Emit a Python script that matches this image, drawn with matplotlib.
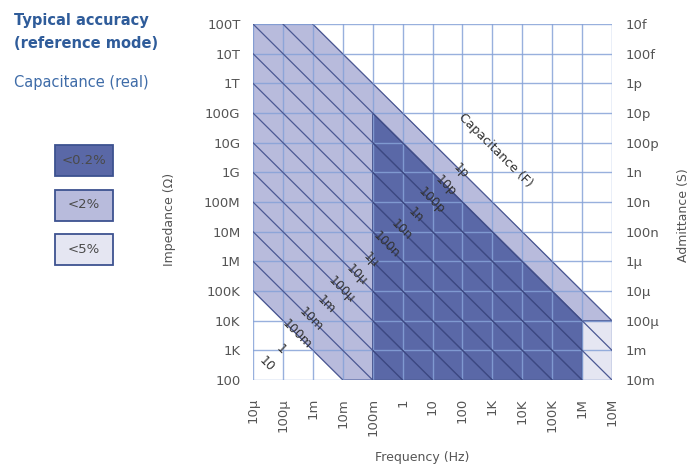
import matplotlib
matplotlib.use('Agg')
import matplotlib.pyplot as plt
from matplotlib.patches import Polygon, Rectangle

# ---- data ----
freq_exp = list(range(-5, 8))
freq_labels = ['10μ', '100μ', '1m', '10m', '100m', '1', '10', '100', '1K', '10K', '100K', '1M', '10M']
imp_exp = list(range(2, 15))
imp_labels = ['100', '1K', '10K', '100K', '1M', '10M', '100M', '1G', '10G', '100G', '1T', '10T', '100T']
adm_labels = ['10m', '1m', '100μ', '10μ', '1μ', '100n', '10n', '1n', '100p', '10p', '1p', '100f', '10f']
cap_exp = [1, 0, -1, -2, -3, -4, -5, -6, -7, -8, -9, -10, -11, -12]
cap_labels = ['10', '1', '100m', '10m', '1m', '100μ', '10μ', '1μ', '100n', '10n', '1n', '100p', '10p', '1p']

# accuracy regions: vertices as (log10 f, log10 |Z|)
region_2 = [(-5, 5), (-5, 14), (-3, 14), (7, 4), (6, 4), (6, 2), (-2, 2)]
region_5 = [(6, 2), (7, 2), (7, 4), (6, 4)]
region_02 = [(-1, 2), (-1, 11), (6, 4), (6, 2)]
legend_labels = ['<0.2%', '<2%', '<5%']

# ---- style ----
c_dark = '#5a68a7'
c_mid = '#b8bbdc'
c_light = '#e5e6f2'
c_grid = '#86a2d8'
c_diag = '#4b5893'
c_title = '#2f5c9a'
c_sub = '#3f6ca8'
c_text = '#555555'

fig = plt.figure(figsize=(6.96, 4.71), dpi=100)
W, H = 696, 471
ax = fig.add_axes([253 / W, 91 / H, 359 / W, 356 / H])
ax.set_xscale('log')
ax.set_yscale('log')
ax.set_xlim(10.0 ** freq_exp[0], 10.0 ** freq_exp[-1])
ax.set_ylim(10.0 ** imp_exp[0], 10.0 ** imp_exp[-1])


def to_real(pts):
    return [(10.0 ** a, 10.0 ** b) for a, b in pts]


patches = []
for pts, col, dcol in [(region_2, c_mid, c_diag), (region_5, c_light, c_diag), (region_02, c_dark, '#3c4882')]:
    p = Polygon(to_real(pts), closed=True, facecolor=col, edgecolor=dcol, lw=0.8, zorder=1)
    ax.add_patch(p)
    patches.append((p, dcol))

# grid
for e in freq_exp:
    ax.axvline(10.0 ** e, color=c_grid, lw=1.0, alpha=0.85, zorder=2)
for e in imp_exp:
    ax.axhline(10.0 ** e, color=c_grid, lw=1.0, alpha=0.85, zorder=2)

# diagonal constant-capacitance lines, clipped to shaded regions
lo, hi = freq_exp[0], freq_exp[-1]
for p, dcol in patches:
    for c in range(imp_exp[0] + lo, imp_exp[-1] + hi + 1):
        ln, = ax.plot([10.0 ** lo, 10.0 ** hi], [10.0 ** (c - lo), 10.0 ** (c - hi)],
                      color=dcol, lw=0.9, zorder=3)
        ln.set_clip_path(p)

# capacitance labels
for e, lab in zip(cap_exp, cap_labels):
    s = -e - 1
    d = 7.1
    ax.text(10.0 ** ((s - d) / 2), 10.0 ** ((s + d) / 2), lab, rotation=-45,
            ha='center', va='center', fontsize=9, color='#333333', zorder=5)
ax.text(10.0 ** 3.09, 10.0 ** 9.74, 'Capacitance (F)', rotation=-45,
        ha='center', va='center', fontsize=9, color='#333333', zorder=5)

for s in ax.spines.values():
    s.set_visible(False)

ax.minorticks_off()
ax.set_xticks([10.0 ** e for e in freq_exp])
ax.set_xticklabels(freq_labels, rotation=90, fontsize=9.5, color=c_text)
ax.set_yticks([10.0 ** e for e in imp_exp])
ax.set_yticklabels(imp_labels, fontsize=9.5, color=c_text)
ax.tick_params(axis='both', length=0)
ax.tick_params(axis='x', pad=13)
ax.tick_params(axis='y', pad=9)

ax2 = ax.twinx()
ax2.set_yscale('log')
ax2.set_ylim(ax.get_ylim())
ax2.minorticks_off()
ax2.set_yticks([10.0 ** e for e in imp_exp])
ax2.set_yticklabels(adm_labels, fontsize=9.5, color=c_text)
ax2.tick_params(axis='y', length=0, pad=10)
for s in ax2.spines.values():
    s.set_visible(False)

fig.text(170 / W, 1 - 219 / H, 'Impedance (Ω)', rotation=90, ha='center', va='center',
         fontsize=9, color=c_text)
fig.text(683 / W, 1 - 215 / H, 'Admittance (S)', rotation=90, ha='center', va='center',
         fontsize=9, color=c_text)
fig.text(422 / W, 1 - 457 / H, 'Frequency (Hz)', ha='center', va='center',
         fontsize=9, color=c_text)

fig.text(14 / W, 1 - 20 / H, 'Typical accuracy', ha='left', va='center',
         fontsize=10.5, fontweight='bold', color=c_title)
fig.text(14 / W, 1 - 44 / H, '(reference mode)', ha='left', va='center',
         fontsize=10.5, fontweight='bold', color=c_title)
fig.text(14 / W, 1 - 83 / H, 'Capacitance (real)', ha='left', va='center',
         fontsize=10.5, color=c_sub)

# legend boxes
for i, (lab, col) in enumerate(zip(legend_labels, [c_dark, c_mid, c_light])):
    top = 145 + i * 44.5
    r = Rectangle((55 / W, 1 - (top + 31) / H), 58 / W, 31 / H, transform=fig.transFigure,
                  facecolor=col, edgecolor='#3d5290', lw=1.3)
    fig.patches.append(r)
    fig.text(84 / W, 1 - (top + 15.5) / H, lab, ha='center', va='center', fontsize=9.5,
             color='#4a4a4a')

fig.savefig('out.png', dpi=100)
